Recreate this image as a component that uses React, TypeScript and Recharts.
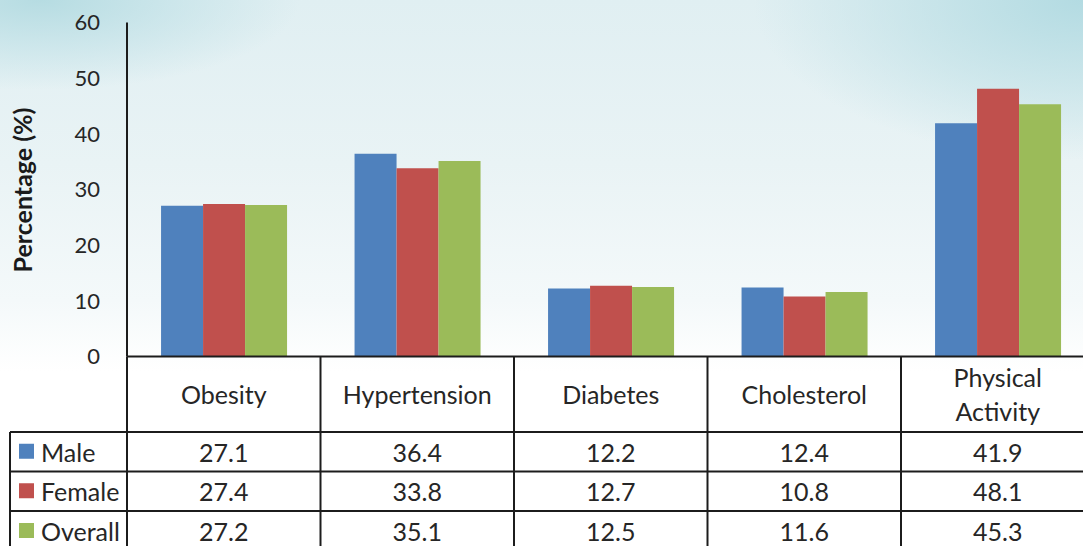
import React from "react";
import { BarChart, Bar, XAxis, YAxis, Label } from "recharts";

// chart values
const categories = ["Obesity", "Hypertension", "Diabetes", "Cholesterol", "Physical Activity"];
const male = [27.1, 36.4, 12.2, 12.4, 41.9];
const female = [27.4, 33.8, 12.7, 10.8, 48.1];
const overall = [27.2, 35.1, 12.5, 11.6, 45.3];
const seriesNames = ["Male", "Female", "Overall"];
const yTicks = [0, 10, 20, 30, 40, 50, 60];

const COLORS = ["#4F81BD", "#C0504D", "#9BBB59"];
const FONT = "Lato, 'Open Sans', sans-serif";
const LINE = "#1c1c1c";
const TABLE_FONT = 25;

// table geometry (layout only)
const PLOT_LEFT = 127;
const PLOT_BOTTOM = 356.5;
const COL_W = 193.5;
const ROWS = [432, 471.5, 511];
const TABLE_END = 560;
const LEGEND_LEFT = 10;

const data = categories.map((name, i) => ({
  name,
  male: male[i],
  female: female[i],
  overall: overall[i],
}));
const seriesValues = [male, female, overall];

function TableTick(props: any) {
  const { x, payload, index } = props;
  const left = x - COL_W / 2;
  const right = x + COL_W / 2;
  const name: string = payload.value;
  const lines = name.includes(" ") ? name.split(" ") : [name];
  const headerMid = (PLOT_BOTTOM + ROWS[0]) / 2;
  const rowMids = [
    (ROWS[0] + ROWS[1]) / 2,
    (ROWS[1] + ROWS[2]) / 2,
    (ROWS[2] + 546 + 5) / 2,
  ];

  return (
    <g>
      {/* header cell */}
      {lines.map((l, k) => (
        <text
          key={k}
          x={x}
          y={headerMid + (k - (lines.length - 1) / 2) * 34}
          textAnchor="middle"
          dominantBaseline="central"
          fontFamily={FONT}
          fontSize={TABLE_FONT}
          fill="#262626"
        >
          {l}
        </text>
      ))}
      {/* values */}
      {seriesValues.map((vals, s) => (
        <text
          key={s}
          x={x}
          y={rowMids[s]}
          textAnchor="middle"
          dominantBaseline="central"
          fontFamily={FONT}
          fontSize={TABLE_FONT}
          fill="#262626"
        >
          {vals[index].toFixed(1)}
        </text>
      ))}
      {/* cell borders */}
      <line x1={right} y1={PLOT_BOTTOM} x2={right} y2={TABLE_END} stroke={LINE} strokeWidth={2} />
      {ROWS.map((ry) => (
        <line key={ry} x1={left} y1={ry} x2={right} y2={ry} stroke={LINE} strokeWidth={2} />
      ))}
      {index === 0 && (
        <g>
          <line x1={left} y1={PLOT_BOTTOM} x2={left} y2={TABLE_END} stroke={LINE} strokeWidth={2} />
          <line x1={LEGEND_LEFT} y1={ROWS[0]} x2={LEGEND_LEFT} y2={TABLE_END} stroke={LINE} strokeWidth={2} />
          {ROWS.map((ry) => (
            <line key={ry} x1={LEGEND_LEFT} y1={ry} x2={left} y2={ry} stroke={LINE} strokeWidth={2} />
          ))}
          {seriesNames.map((sn, s) => (
            <g key={sn}>
              <rect x={19} y={rowMids[s] - 8} width={15} height={15} fill={COLORS[s]} />
              <text
                x={41}
                y={rowMids[s]}
                dominantBaseline="central"
                fontFamily={FONT}
                fontSize={TABLE_FONT}
                fill="#262626"
              >
                {sn}
              </text>
            </g>
          ))}
        </g>
      )}
    </g>
  );
}

export default function App() {
  return (
    <div
      style={{
        position: "fixed",
        left: 0,
        top: 0,
        width: 1083,
        height: 546,
        overflow: "hidden",
        background:
          "radial-gradient(ellipse 260px 90px at 40px 0px, #b6dce2 0%, rgba(190,224,230,0.6) 50%, rgba(255,255,255,0) 100%)," +
          "radial-gradient(ellipse 330px 160px at 1083px 0px, #b3dbe2 0%, rgba(190,224,230,0.6) 55%, rgba(255,255,255,0) 100%)," +
          "linear-gradient(180deg, #e0eff2 0%, #e9f3f5 30%, #f4f9fa 55%, #ffffff 68%, #ffffff 100%)",
      }}
    >
      <BarChart
        width={1100}
        height={546}
        data={data}
        margin={{ top: 22.5, right: 1100 - PLOT_LEFT - COL_W * 5, bottom: 0, left: 0 }}
        barCategoryGap="17.6%"
        barGap={0}
      >
        <YAxis
          width={PLOT_LEFT}
          domain={[0, 60]}
          ticks={yTicks}
          interval={0}
          axisLine={{ stroke: LINE, strokeWidth: 2 }}
          tickLine={false}
          tickMargin={21}
          tick={{ fill: "#262626", fontSize: 22, fontFamily: FONT }}
        >
          <Label
            content={() => (
              <text
                x={32}
                y={190}
                transform="rotate(-90 32 190)"
                textAnchor="middle"
                fontFamily={FONT}
                fontWeight={700}
                fontSize={25}
                fill="#1a1a1a"
              >
                Percentage (%)
              </text>
            )}
          />
        </YAxis>
        <XAxis
          dataKey="name"
          height={546 - PLOT_BOTTOM}
          interval={0}
          axisLine={{ stroke: LINE, strokeWidth: 2 }}
          tickLine={false}
          tick={<TableTick />}
        />
        <Bar dataKey="male" name="Male" fill={COLORS[0]} isAnimationActive={false} />
        <Bar dataKey="female" name="Female" fill={COLORS[1]} isAnimationActive={false} />
        <Bar dataKey="overall" name="Overall" fill={COLORS[2]} isAnimationActive={false} />
      </BarChart>
    </div>
  );
}
